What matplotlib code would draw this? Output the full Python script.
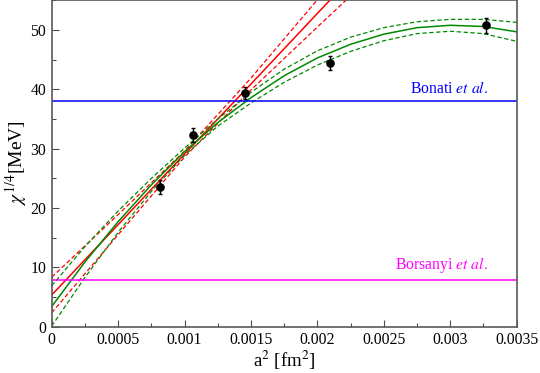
import numpy as np
import matplotlib
matplotlib.use("Agg")
import matplotlib.pyplot as plt
from matplotlib.ticker import MultipleLocator

plt.rcParams["font.family"] = ["Liberation Serif", "DejaVu Serif"]
plt.rcParams["mathtext.fontset"] = "stix"

# --- lattice data points ---
a2 = [0.000815, 0.001065, 0.001454, 0.002094, 0.003273]
chi = [23.5, 32.3, 39.4, 44.4, 50.8]
chi_err = [1.2, 1.2, 1.0, 1.2, 1.25]

# --- linear fit (red) ---
lin_x = [0.0, 0.0005, 0.001, 0.0015, 0.002, 0.0025]
lin_mid = [5.35, 17.2, 29.1, 40.9, 52.8, 64.6]
lin_hi = [8.35, 18.9, 29.6, 41.9, 55.1, 68.2]
lin_lo = [2.35, 15.5, 28.6, 39.9, 50.5, 61.0]

# --- quadratic fit (green) ---
quad_x = [0.0, 0.00025, 0.0005, 0.00075, 0.001, 0.00125, 0.0015, 0.00175,
          0.002, 0.00225, 0.0025, 0.00275, 0.003, 0.00325, 0.0035]
quad_mid = [3.4, 10.9, 17.7, 23.9, 29.5, 34.4, 38.6, 42.3,
            45.3, 47.6, 49.3, 50.4, 50.8, 50.6, 49.7]
quad_hi = [6.9, 13.5, 19.5, 25.0, 30.1, 35.0, 39.5, 43.4,
           46.5, 48.8, 50.4, 51.4, 51.8, 51.8, 51.3]
quad_lo = [0.1, 8.3, 15.9, 22.8, 28.9, 33.8, 37.7, 41.2,
           44.1, 46.4, 48.2, 49.4, 49.8, 49.4, 48.1]

# --- reference values ---
bonati = 38.0
borsanyi = 7.9

xticks = [0, 0.0005, 0.001, 0.0015, 0.002, 0.0025, 0.003, 0.0035]
xticklabels = ["0", "0.0005", "0.001", "0.0015", "0.002", "0.0025",
               "0.003", "0.0035"]

fig = plt.figure(figsize=(5.4, 3.73), dpi=100)
ax = fig.add_axes([0.0957, 0.124, 0.861, 0.875])

green = "#008a00"
red = "#ff0000"
dash = (0, (3.5, 2))

ax.plot(lin_x, lin_hi, color=red, lw=0.9, ls=dash)
ax.plot(lin_x, lin_lo, color=red, lw=0.9, ls=dash)
ax.plot(lin_x, lin_mid, color=red, lw=1.1)

ax.plot(quad_x, quad_hi, color=green, lw=0.9, ls=dash)
ax.plot(quad_x, quad_lo, color=green, lw=0.9, ls=dash)
ax.plot(quad_x, quad_mid, color=green, lw=1.1)

ax.axhline(bonati, color="#0000ff", lw=1.1)
ax.axhline(borsanyi, color="#ff00ff", lw=1.1)
ax.text(0.003285, bonati + 0.75, r"Bonati $\mathit{et\ al.}$", color="#0000ff",
        fontsize=11.3, ha="right", va="bottom")
ax.text(0.003285, borsanyi + 0.75, r"Borsanyi $\mathit{et\ al.}$", color="#ff00ff",
        fontsize=11.3, ha="right", va="bottom")

ax.errorbar(a2, chi, yerr=chi_err, fmt="o", color="black", ms=5.2,
            capsize=1.6, elinewidth=1.0, capthick=1.0, zorder=5)

ax.set_xticks(xticks)
ax.set_xticklabels(xticklabels)
ax.xaxis.set_minor_locator(MultipleLocator(0.00025))
ax.yaxis.set_major_locator(MultipleLocator(10))
ax.yaxis.set_minor_locator(MultipleLocator(5))
ax.set_xlim(0, 0.0035)
ax.set_ylim(0, 55)
ax.tick_params(which="both", direction="in", top=False, right=False,
               labelsize=11.3, color="0.3")
ax.tick_params(which="major", length=5, width=0.8, pad=4)
ax.tick_params(which="minor", length=3, width=0.8)
for s in ax.spines.values():
    s.set_color("0.35")
    s.set_linewidth(1.2)

ax.set_xlabel(r"a$^2$ [fm$^2$]", fontsize=13.5, labelpad=0)
ax.set_ylabel(r"$\chi^{\,1/4}$[MeV]", fontsize=14, labelpad=1)

fig.savefig("out.png", dpi=100)
